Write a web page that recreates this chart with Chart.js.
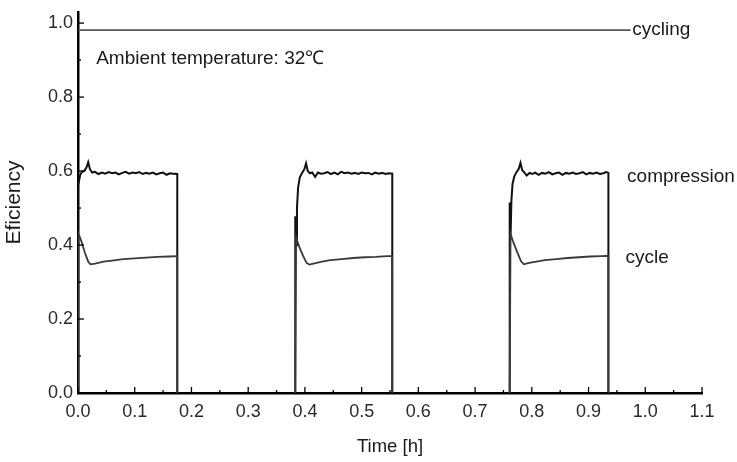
<!DOCTYPE html>
<html>
<head>
<meta charset="utf-8">
<title>Efficiency vs time</title>
<script src="https://cdn.jsdelivr.net/npm/chart.js@4/dist/chart.umd.min.js"></script>
<style>
  html, body { margin: 0; padding: 0; background: #fff; }
  #wrap { width: 737px; height: 462px; }
</style>
</head>
<body>
<div id="wrap"><canvas id="chart" width="737" height="462"></canvas></div>
<script>
// values; null breaks the line between on-periods
const compressionTime = [
  0, 0, 0.002, 0.004, 0.007, 0.011, 0.015, 0.018, 0.021, 0.025, 0.03, 0.036, 0.042, 0.048, 0.054, 0.06,
  0.066, 0.072, 0.078, 0.084, 0.09, 0.096, 0.102, 0.108, 0.114, 0.12, 0.126, 0.132, 0.138, 0.144, 0.15,
  0.156, 0.162, 0.168, 0.175, 0.175, null,
  0.383, 0.383, 0.3845, 0.386, 0.388, 0.391, 0.395, 0.399, 0.402, 0.405, 0.409, 0.413, 0.418, 0.423,
  0.428, 0.434, 0.44, 0.446, 0.452, 0.458, 0.464, 0.47, 0.476, 0.482, 0.488, 0.494, 0.5, 0.506, 0.512,
  0.518, 0.524, 0.53, 0.536, 0.542, 0.548, 0.554, 0.554, null,
  0.761, 0.761, 0.7625, 0.764, 0.766, 0.769, 0.773, 0.777, 0.78, 0.783, 0.787, 0.791, 0.796, 0.801,
  0.806, 0.812, 0.818, 0.824, 0.83, 0.836, 0.842, 0.848, 0.854, 0.86, 0.866, 0.872, 0.878, 0.884, 0.89,
  0.896, 0.902, 0.908, 0.914, 0.92, 0.926, 0.931, 0.935, 0.935
];
const compressionEff = [
  0, 0.56, 0.575, 0.59, 0.598, 0.6, 0.61, 0.624, 0.605, 0.596, 0.598, 0.592, 0.596, 0.593, 0.597, 0.594,
  0.596, 0.591, 0.595, 0.598, 0.593, 0.596, 0.594, 0.597, 0.592, 0.595, 0.593, 0.596, 0.591, 0.594, 0.596,
  0.59, 0.594, 0.593, 0.592, 0, null,
  0, 0.478, 0.4, 0.5, 0.555, 0.583, 0.595, 0.605, 0.621, 0.6, 0.594, 0.596, 0.584, 0.596,
  0.593, 0.594, 0.597, 0.592, 0.596, 0.591, 0.598, 0.594, 0.596, 0.593, 0.595, 0.592, 0.596, 0.594, 0.595,
  0.591, 0.596, 0.593, 0.595, 0.592, 0.594, 0.593, 0, null,
  0, 0.515, 0.42, 0.52, 0.565, 0.585, 0.597, 0.606, 0.622, 0.603, 0.596, 0.588, 0.595, 0.592,
  0.596, 0.59, 0.595, 0.593, 0.597, 0.591, 0.594, 0.596, 0.59, 0.595, 0.593, 0.596, 0.592, 0.594, 0.597,
  0.591, 0.595, 0.593, 0.596, 0.592, 0.594, 0.597, 0.595, 0
];

const cycleTime = [
  0, 0.001, 0.006, 0.012, 0.018, 0.022, 0.03, 0.045, 0.06, 0.08, 0.1, 0.12, 0.14, 0.16, 0.175, 0.175, null,
  0.383, 0.3845, 0.39, 0.397, 0.403, 0.408, 0.415, 0.43, 0.445, 0.465, 0.485, 0.505, 0.525, 0.545, 0.554, 0.554, null,
  0.761, 0.7625, 0.768, 0.775, 0.781, 0.786, 0.793, 0.808, 0.823, 0.843, 0.863, 0.883, 0.903, 0.923, 0.935, 0.935
];
const cycleEff = [
  0, 0.43, 0.41, 0.38, 0.355, 0.348, 0.35, 0.355, 0.358, 0.362, 0.364, 0.366, 0.368, 0.369, 0.37, 0, null,
  0, 0.42, 0.395, 0.37, 0.352, 0.347, 0.35, 0.355, 0.359, 0.362, 0.365, 0.367, 0.368, 0.37, 0.37, 0, null,
  0, 0.43, 0.405, 0.378, 0.356, 0.348, 0.351, 0.355, 0.359, 0.362, 0.365, 0.367, 0.369, 0.37, 0.371, 0
];

const cyclingTime = [0, 0.974];
const cyclingEff = [0.981, 0.981];

// tick marks (every one) and the ones that carry a label
const xTickValues = [0, 0.05, 0.1, 0.15, 0.2, 0.25, 0.3, 0.35, 0.4, 0.45, 0.5, 0.55,
  0.6, 0.65, 0.7, 0.75, 0.8, 0.85, 0.9, 0.95, 1.0, 1.05, 1.1];
const yTickValues = [0, 0.1, 0.2, 0.3, 0.4, 0.5, 0.6, 0.7, 0.8, 0.9, 1.0];
const xLabelTicks = [0, 0.1, 0.2, 0.3, 0.4, 0.5, 0.6, 0.7, 0.8, 0.9, 1.0, 1.1];
const yLabelTicks = [0, 0.2, 0.4, 0.6, 0.8, 1.0];

// curve labels: [text, x, y]
const curveLabels = [
  ["cycling", 0.977, 0.981],
  ["compression", 0.968, 0.584],
  ["cycle", 0.965, 0.365],
];
const noteText = ["Ambient temperature: 32\u2103", 0.032, 0.903];

function points(ts, vs) {
  return ts.map((t, i) => (t === null ? { x: NaN, y: null } : { x: t, y: vs[i] }));
}

function isLabelTick(list, v) {
  return list.some((t) => Math.abs(t - v) < 1e-6);
}

const FONT = "'Liberation Sans', Arial, Helvetica, sans-serif";

// ticks point inward, major ones longer
const inwardTicks = {
  id: "inwardTicks",
  afterDraw(chart) {
    const ctx = chart.ctx;
    const { x, y } = chart.scales;
    ctx.save();
    ctx.strokeStyle = "#000";
    ctx.lineWidth = 1.3;
    x.ticks.forEach((t) => {
      const px = x.getPixelForValue(t.value);
      const len = isLabelTick(xLabelTicks, t.value) ? 6 : 3;
      ctx.beginPath();
      ctx.moveTo(px, y.bottom);
      ctx.lineTo(px, y.bottom - len);
      ctx.stroke();
    });
    y.ticks.forEach((t) => {
      const py = y.getPixelForValue(t.value);
      const len = isLabelTick(yLabelTicks, t.value) ? 6 : 3;
      ctx.beginPath();
      ctx.moveTo(x.left, py);
      ctx.lineTo(x.left + len, py);
      ctx.stroke();
    });
    ctx.restore();
  },
};

const textLabels = {
  id: "textLabels",
  afterDatasetsDraw(chart) {
    const ctx = chart.ctx;
    const { x, y } = chart.scales;
    ctx.save();
    ctx.fillStyle = "#1a1a1a";
    ctx.textBaseline = "middle";
    ctx.textAlign = "left";
    ctx.font = "19px " + FONT;
    curveLabels.forEach(([txt, tx, ty]) => {
      ctx.fillText(txt, x.getPixelForValue(tx), y.getPixelForValue(ty));
    });
    ctx.fillText(noteText[0], x.getPixelForValue(noteText[1]), y.getPixelForValue(noteText[2]));
    ctx.restore();
  },
};

new Chart(document.getElementById("chart"), {
  type: "line",
  data: {
    datasets: [
      {
        label: "cycling",
        data: points(cyclingTime, cyclingEff),
        borderColor: "#555",
        borderWidth: 1.6,
      },
      {
        label: "cycle",
        data: points(cycleTime, cycleEff),
        borderColor: "#3a3a3a",
        borderWidth: 1.8,
      },
      {
        label: "compression",
        data: points(compressionTime, compressionEff),
        borderColor: "#111",
        borderWidth: 2,
      },
    ],
  },
  options: {
    responsive: false,
    animation: false,
    spanGaps: false,
    elements: {
      point: { radius: 0 },
      line: { tension: 0, borderJoinStyle: "miter" },
    },
    layout: { padding: { left: 0, top: 12, right: 35, bottom: 0 } },
    plugins: {
      legend: { display: false },
      tooltip: { enabled: false },
    },
    scales: {
      x: {
        type: "linear",
        min: 0,
        max: 1.1,
        afterBuildTicks: (s) => { s.ticks = xTickValues.map((v) => ({ value: v })); },
        afterFit: (s) => { s.height = 69; },
        grid: { display: false, drawTicks: false },
        border: { display: true, color: "#000", width: 2.5 },
        ticks: {
          autoSkip: false,
          maxRotation: 0,
          padding: 8,
          color: "#2a2a2a",
          font: { family: FONT, size: 18 },
          callback: (v) => (isLabelTick(xLabelTicks, v) ? v.toFixed(1) : ""),
        },
        title: {
          display: true,
          text: "Time [h]",
          color: "#1a1a1a",
          font: { family: FONT, size: 18.5 },
          padding: { top: 4, bottom: 4 },
        },
      },
      y: {
        type: "linear",
        min: 0,
        max: 1.03,
        afterBuildTicks: (s) => { s.ticks = yTickValues.map((v) => ({ value: v })); },
        afterFit: (s) => {
          s.width = 78;
          s.paddingTop = 0;
          s.paddingBottom = 0;
        },
        grid: { display: false, drawTicks: false },
        border: { display: true, color: "#000", width: 2.5 },
        ticks: {
          autoSkip: false,
          padding: 5,
          color: "#2a2a2a",
          font: { family: FONT, size: 18 },
          callback: (v) => (isLabelTick(yLabelTicks, v) ? v.toFixed(1) : ""),
        },
        title: {
          display: true,
          text: "Eficiency",
          color: "#1a1a1a",
          font: { family: FONT, size: 21 },
          padding: { top: 2, bottom: 2 },
        },
      },
    },
  },
  plugins: [inwardTicks, textLabels],
});
</script>
</body>
</html>
